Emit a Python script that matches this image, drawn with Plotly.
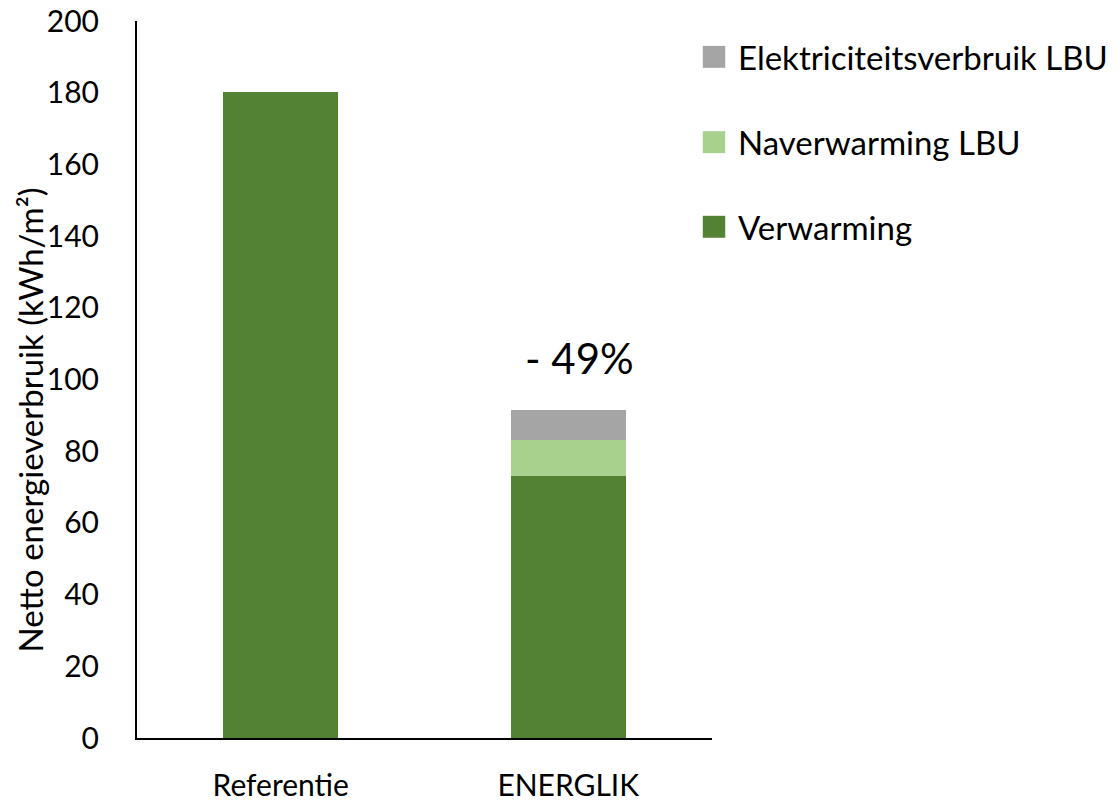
import plotly.graph_objects as go

categories = ["Referentie", "ENERGLIK"]
series_names = ["Verwarming", "Naverwarming LBU", "Elektriciteitsverbruik LBU"]
verwarming = [180.2, 73.2]
naverwarming = [0, 9.9]
elektriciteit = [0, 8.4]
reduction_label = "- 49%"
y_ticks = [0, 20, 40, 60, 80, 100, 120, 140, 160, 180, 200]

colors = ["#548235", "#A9D18E", "#A5A5A5"]
FONT = "Lato"

fig = go.Figure()
for name, vals, col in zip(series_names, [verwarming, naverwarming, elektriciteit], colors):
    fig.add_trace(go.Bar(x=categories, y=vals, name=name, marker=dict(color=col, line=dict(width=0)),
                         showlegend=False))

fig.update_layout(
    barmode="stack",
    bargap=0.6,
    width=1120, height=806,
    margin=dict(l=137, r=408, t=21, b=68, autoexpand=False),
    paper_bgcolor="white", plot_bgcolor="white",
    font=dict(family=FONT, color="black", size=30),
)
fig.update_yaxes(range=[0, 200], tickvals=y_ticks, showgrid=False, zeroline=False,
                 showline=True, linecolor="black", linewidth=2, ticks="",
                 ticklabelstandoff=30, tickfont=dict(size=30), automargin=False)
fig.update_xaxes(showgrid=False, showline=True, linecolor="black", linewidth=2, ticks="",
                 ticklabelstandoff=20, tickfont=dict(size=30), automargin=False)

# y-axis title
fig.add_annotation(text="Netto energieverbruik (kWh/m²)", xref="paper", yref="paper",
                   x=-0.186, y=0.443, textangle=-90, showarrow=False,
                   xanchor="center", yanchor="middle", font=dict(size=33))

# reduction label
total_e = verwarming[1] + naverwarming[1] + elektriciteit[1]
fig.add_annotation(text=reduction_label, x=categories[1], y=total_e + 14.5, xshift=11,
                   showarrow=False, font=dict(size=42), xanchor="center", yanchor="middle")

# custom legend (top to bottom: reversed stack order)
leg_y = [0.950, 0.831, 0.713]
for i, (name, col) in enumerate(zip(series_names[::-1], colors[::-1])):
    y = leg_y[i]
    fig.add_shape(type="rect", xref="paper", yref="paper",
                  x0=0.984, x1=1.023, y0=y - 0.0153, y1=y + 0.0153,
                  fillcolor=col, line=dict(width=0))
    fig.add_annotation(text=name, xref="paper", yref="paper", x=1.0417, y=y,
                       xanchor="left", yanchor="middle", showarrow=False,
                       font=dict(size=33))

fig.write_html("out.html")
